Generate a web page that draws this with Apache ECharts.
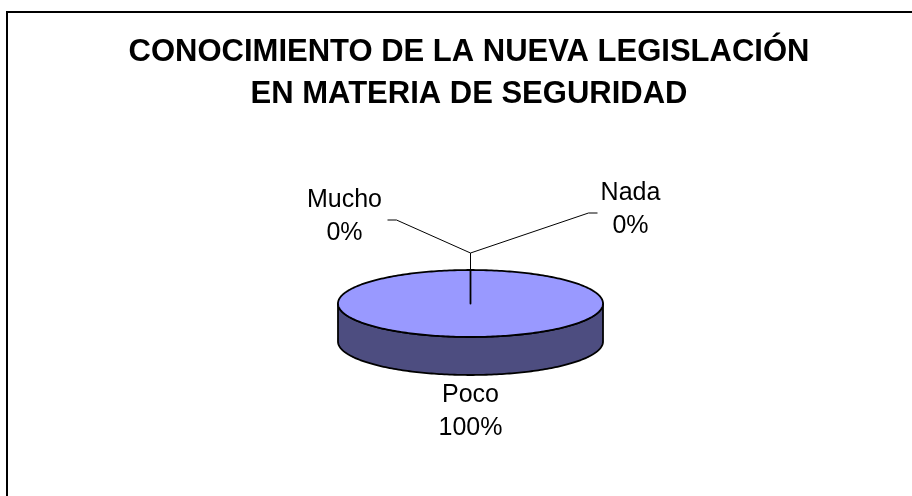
<!DOCTYPE html>
<html>
<head>
<meta charset="UTF-8" />
<title>Conocimiento de la nueva legislación</title>
<script src="https://cdn.jsdelivr.net/npm/echarts@6/dist/echarts.min.js"></script>
<style>
    html, body { margin: 0; padding: 0; background: #fff; }
    #main { width: 912px; height: 496px; }
</style>
</head>
<body>
<div id="main"></div>
<script>
var categories = ['Mucho', 'Poco', 'Nada'];
var values = [0, 100, 0];
var titleText = 'CONOCIMIENTO DE LA NUEVA LEGISLACIÓN\nEN MATERIA DE SEGURIDAD';

var chart = echarts.init(document.getElementById('main'));

var total = values.reduce(function (a, b) { return a + b; }, 0);

/* flattened pie with a side wall, to get the old Excel 3D pie look */
var CX = 470.5, CY = 303.5, RX = 132.5, RY = 33.5, DEPTH = 38;
var FACE = '#9999ff', SIDE = '#4d4d80';
var FONT = 'Liberation Sans, Arial, sans-serif';

function pt(a, dy) {
    return [CX + RX * Math.sin(a), CY - RY * Math.cos(a) + (dy || 0)];
}
function arc(a0, a1, dy) {
    var n = Math.max(2, Math.ceil(Math.abs(a1 - a0) / 0.02));
    var out = [];
    for (var i = 0; i <= n; i++) out.push(pt(a0 + (a1 - a0) * i / n, dy));
    return out;
}

function renderItem(params, api) {
    var i = params.dataIndex;
    var before = 0;
    for (var k = 0; k < i; k++) before += values[k];
    var a0 = before / total * Math.PI * 2;
    var a1 = (before + values[i]) / total * Math.PI * 2;
    var label = categories[i] + '\n' + Math.round(values[i] / total * 100) + '%';
    var stroke = { stroke: '#000', lineWidth: 1.8, lineJoin: 'round' };
    var textStyle = { fill: '#000', fontSize: 25, fontFamily: FONT, lineHeight: 33, align: 'center', verticalAlign: 'middle' };
    var children = [];

    if (values[i] > 0) {
        // front wall (only the part facing us)
        var s0 = Math.max(a0, Math.PI / 2), s1 = Math.min(a1, Math.PI * 1.5);
        if (s1 > s0) {
            children.push({
                type: 'polygon', z2: 1,
                shape: { points: arc(s0, s1, 0).concat(arc(s1, s0, DEPTH)) },
                style: Object.assign({ fill: SIDE }, stroke)
            });
        }
        children.push({
            type: 'polygon', z2: 2,
            shape: { points: [[CX, CY]].concat(arc(a0, a1, 0)) },
            style: Object.assign({ fill: FACE }, stroke)
        });
        var mid = (a0 + a1) / 2;
        var p = pt(mid, Math.cos(mid) < 0 ? DEPTH : 0);
        children.push({
            type: 'text', z2: 10,
            style: Object.assign({ text: label, x: p[0] + Math.sin(mid) * 40, y: p[1] - Math.cos(mid) * 37 }, textStyle)
        });
    } else {
        // zero slice: leader line from the rim up, then off to one side
        var rim = pt(a0, 0);
        var elbow = [rim[0], CY - RY - 17];
        var left = a0 < Math.PI;
        var knee = left ? [elbow[0] - 74, elbow[1] - 33] : [elbow[0] + 118, elbow[1] - 40];
        var end = [knee[0] + (left ? -9 : 9), knee[1]];
        children.push({
            type: 'polyline', z2: 5,
            shape: { points: [rim, elbow, knee, end] },
            style: { stroke: '#000', lineWidth: 1, fill: null }
        });
        children.push({
            type: 'text', z2: 10,
            style: Object.assign({ text: label, x: end[0] + (left ? -43 : 33), y: end[1] - 3 }, textStyle)
        });
    }
    return { type: 'group', children: children };
}

var option = {
    backgroundColor: '#fff',
    animation: false,
    title: {
        text: titleText,
        left: 464,
        top: 26,
        textAlign: 'center',
        textStyle: {
            fontFamily: FONT,
            fontSize: 31,
            fontWeight: 'bold',
            color: '#000',
            lineHeight: 42
        }
    },
    graphic: [{
        type: 'rect',
        shape: { x: 7, y: 12, width: 1000, height: 1000 },
        style: { fill: 'none', stroke: '#000', lineWidth: 2 },
        silent: true
    }],
    series: [{
        type: 'custom',
        coordinateSystem: 'none',
        renderItem: renderItem,
        data: values.map(function (v, i) { return { name: categories[i], value: v }; })
    }]
};

chart.setOption(option);
</script>
</body>
</html>
